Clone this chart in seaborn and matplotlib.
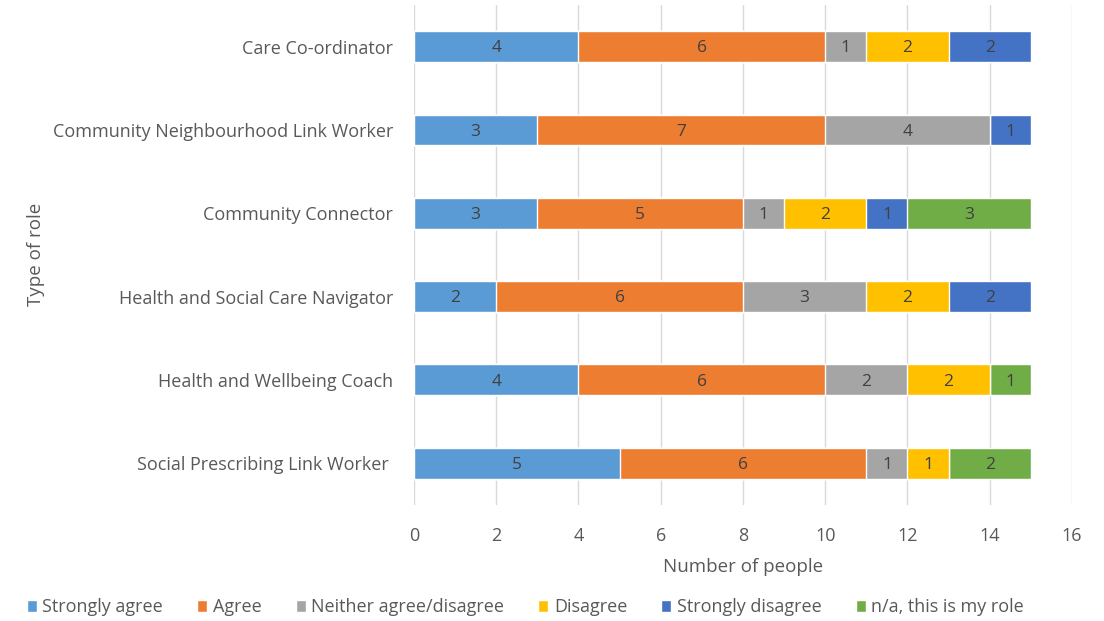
import numpy as np
import pandas as pd
import matplotlib
matplotlib.use("Agg")
import matplotlib.pyplot as plt
from matplotlib.patches import Patch
import seaborn as sns

# -------------------------------------------------------------
# DATA
# -------------------------------------------------------------
roles = [
    "Care Co-ordinator",
    "Community Neighbourhood Link Worker",
    "Community Connector",
    "Health and Social Care Navigator",
    "Health and Wellbeing Coach",
    "Social Prescribing Link Worker ",
]
responses = ["Strongly agree", "Agree", "Neither agree/disagree",
             "Disagree", "Strongly disagree", "n/a, this is my role"]
strongly_agree = [4, 3, 3, 2, 4, 5]
agree = [6, 7, 5, 6, 6, 6]
neither = [1, 4, 1, 3, 2, 1]
disagree = [2, 0, 2, 2, 2, 1]
strongly_disagree = [2, 1, 1, 2, 0, 0]
not_applicable = [0, 0, 3, 0, 1, 2]

colors = ["#5B9BD5", "#ED7D31", "#A5A5A5", "#FFC000", "#4472C4", "#70AD47"]

series = [strongly_agree, agree, neither, disagree, strongly_disagree, not_applicable]
df = pd.DataFrame(dict(zip(responses, series)), index=roles)
cum = df.cumsum(axis=1)

sns.set_style("white")
plt.rcParams["font.family"] = ["Open Sans", "DejaVu Sans"]
TXT = "#595959"

fig = plt.figure(figsize=(11.04, 6.21), dpi=100)
ax = fig.add_axes([0.375, 0.187, 0.596, 0.805])

# draw cumulative totals from the last segment back so each shows its own slice
for resp, col in zip(reversed(responses), reversed(colors)):
    sns.barplot(x=cum[resp].values, y=roles, orient="h", color=col,
                width=0.37, saturation=1, ax=ax, zorder=3)

for i, role in enumerate(roles):
    for resp in responses:
        v = df.loc[role, resp]
        if v > 0:
            ax.text(cum.loc[role, resp] - v / 2, i + 0.02, str(v), ha="center", va="center",
                    fontsize=12.5, color="#404040", zorder=4)

ax.set_xlim(0, 16)
ax.set_ylim(5.5, -0.5)
ax.set_xticks(range(0, 17, 2))
ax.grid(axis="x", color="#D9D9D9", linewidth=1, zorder=0)
ax.set_axisbelow(True)
for s in ax.spines.values():
    s.set_visible(False)
ax.tick_params(axis="y", length=0, labelsize=13, colors=TXT, pad=15)
ax.tick_params(axis="x", length=0, labelsize=13, colors=TXT, pad=16)
ax.set_xlabel("Number of people", fontsize=13.5, color=TXT, labelpad=9)
ax.set_ylabel("")
fig.text(0.033, 0.59, "Type of role", rotation=90, ha="center", va="center",
         fontsize=13.5, color=TXT)

handles = [Patch(facecolor=c, label=r) for r, c in zip(responses, colors)]
fig.legend(handles=handles, loc="center", bbox_to_anchor=(0.476, 0.022), ncol=6,
           frameon=False, fontsize=13, handlelength=0.55, handleheight=0.6,
           handletextpad=0.3, columnspacing=1.9, labelcolor=TXT)

plt.savefig("out.png", dpi=100)
